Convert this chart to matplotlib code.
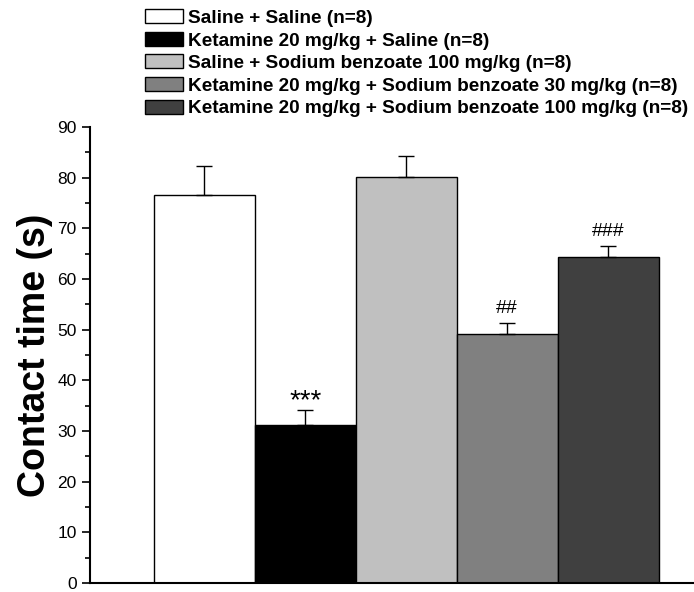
import numpy as np
import matplotlib.pyplot as plt
from matplotlib.patches import Patch
from matplotlib.ticker import MultipleLocator

plt.rcParams['font.family'] = ['Liberation Sans', 'DejaVu Sans']

groups = ['Saline + Saline (n=8)',
          'Ketamine 20 mg/kg + Saline (n=8)',
          'Saline + Sodium benzoate 100 mg/kg (n=8)',
          'Ketamine 20 mg/kg + Sodium benzoate 30 mg/kg (n=8)',
          'Ketamine 20 mg/kg + Sodium benzoate 100 mg/kg (n=8)']
means = [76.6, 31.2, 80.1, 49.1, 64.3]
sem = [5.7, 2.9, 4.2, 2.2, 2.2]
marks = ['', '***', '', '##', '###']
colors = ['white', 'black', '#c0c0c0', '#808080', '#404040']

fig = plt.figure(figsize=(6.94, 5.92), dpi=100)
ax = fig.add_axes([0.1297, 0.0152, 0.8703, 0.7703])

x = np.arange(len(means))
ax.bar(x, means, width=1.0, color=colors, edgecolor='black', linewidth=1.0)
ax.errorbar(x, means, yerr=[np.zeros(len(sem)), sem], fmt='none',
            ecolor='black', elinewidth=1.0, capsize=6, capthick=1.0)

# significance marks above the error bars
for xi, m, s, t in zip(x, means, sem, marks):
    if not t:
        continue
    if '*' in t:
        ax.text(xi, m + s + 0.3, t, ha='center', va='baseline', fontsize=20)
    else:
        ax.text(xi, m + s + 2.0, t, ha='center', va='baseline', fontsize=14)

ax.set_xlim(-1.13, 4.85)
ax.set_ylim(0, 90)
ax.yaxis.set_major_locator(MultipleLocator(10))
ax.yaxis.set_minor_locator(MultipleLocator(5))
ax.tick_params(axis='y', which='major', direction='out', length=6, width=1.2, labelsize=12.5)
ax.tick_params(axis='y', which='minor', direction='out', length=3.5, width=1.2)
ax.set_xticks([])
for side in ['top', 'right']:
    ax.spines[side].set_visible(False)
for side in ['left', 'bottom']:
    ax.spines[side].set_linewidth(1.5)
ax.set_ylabel('Contact time (s)', fontsize=27, fontweight='bold', labelpad=3)

handles = [Patch(facecolor=c, edgecolor='black', linewidth=1.0) for c in colors]
fig.legend(handles, groups, loc='upper left', bbox_to_anchor=(0.198, 0.997),
           frameon=False, prop={'weight': 'bold', 'size': 13.7},
           handlelength=2.0, handleheight=0.75, handletextpad=0.25,
           labelspacing=0.26, borderaxespad=0)

fig.savefig('out.png', dpi=100)
